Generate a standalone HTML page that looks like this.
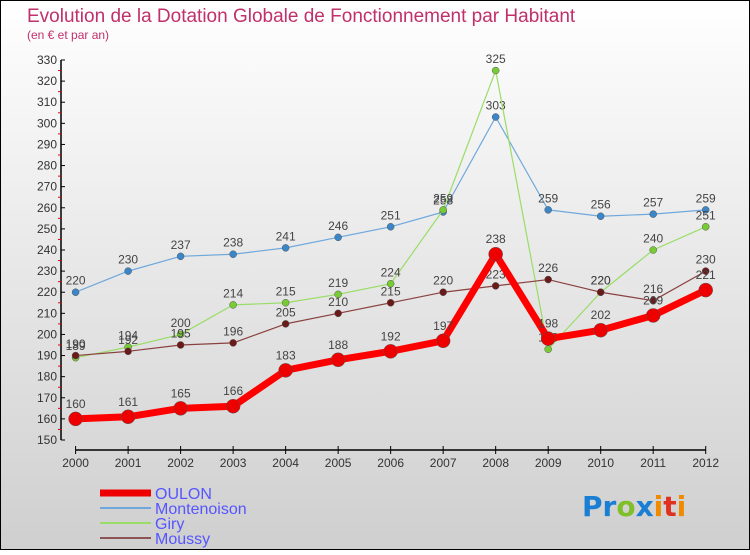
<!DOCTYPE html>
<html><head><meta charset="utf-8"><style>
body{margin:0}
#c{width:750px;height:550px;position:relative;font-family:"Liberation Sans",sans-serif;}
</style></head><body>
<div id="c">
<svg id="s" width="750" height="550" xmlns="http://www.w3.org/2000/svg">
<defs><linearGradient id="bg" x1="0" y1="0" x2="0" y2="1"><stop offset="0" stop-color="#ffffff"/><stop offset="1" stop-color="#cfcfcf"/></linearGradient></defs>
<rect x="0.5" y="0.5" width="749" height="549" fill="url(#bg)" stroke="#000"/>
<text x="27" y="22" font-size="19" fill="#c0306a">Evolution de la Dotation Globale de Fonctionnement par Habitant</text>
<text x="27" y="39" font-size="12" fill="#c0306a">(en € et par an)</text>
<g id="axes"></g>
<g id="series"></g>
<g id="legend"></g>
<text x="582" y="516" font-size="28" font-weight="bold" font-family="DejaVu Sans, sans-serif"><tspan fill="#1a7fd4">Pr</tspan><tspan fill="#7fbf2a">o</tspan><tspan fill="#1a7fd4">x</tspan><tspan fill="#f08a00">i</tspan><tspan fill="#e03020">t</tspan><tspan fill="#f08a00">i</tspan></text>
</svg>
</div>
<script>
const years=[2000,2001,2002,2003,2004,2005,2006,2007,2008,2009,2010,2011,2012];
const oulon=[160,161,165,166,183,188,192,197,238,198,202,209,221];
const montenoison=[220,230,237,238,241,246,251,258,303,259,256,257,259];
const giry=[189,194,200,214,215,219,224,259,325,193,220,240,251];
const moussy=[190,192,195,196,205,210,215,220,223,226,220,216,230];
const yTicks=[150,160,170,180,190,200,210,220,230,240,250,260,270,280,290,300,310,320,330];
const NS="http://www.w3.org/2000/svg";
const X=i=>75.6+i*(705.7-75.6)/(years.length-1);
const Y=v=>60+(330-v)*(440-60)/180;
function mk(tag,attrs,parent){const e=document.createElementNS(NS,tag);for(const k in attrs)e.setAttribute(k,attrs[k]);parent.appendChild(e);return e;}
const ax=document.getElementById('axes');
let yl=mk('line',{x1:61,y1:Y(330),x2:61,y2:Y(150),stroke:'#000','stroke-width':1.5},ax);


yTicks.forEach((t,i)=>{
  mk('line',{x1:61,y1:Y(t),x2:65,y2:Y(t),stroke:'#000'},ax);
  if(i<yTicks.length-1)mk('line',{x1:58,y1:Y(t+5),x2:61,y2:Y(t+5),stroke:'#e00'},ax);
  const tx=mk('text',{x:57,y:Y(t)+4,'font-size':12,'text-anchor':'end',fill:'#333'},ax);
  tx.textContent=t;
  
  
});
let xl=mk('line',{x1:X(0),y1:450,x2:X(12),y2:450,stroke:'#000','stroke-width':1.5},ax);


years.forEach((yr,i)=>{
  mk('line',{x1:X(i),y1:446,x2:X(i),y2:454,stroke:'#000'},ax);
  const tx=mk('text',{x:X(i),y:467,'font-size':12,'text-anchor':'middle',fill:'#333'},ax);
  tx.textContent=yr;
  
  
});
const sg=document.getElementById('series');
function drawSeries(name,vals,color,dot,w,r){
  const g=mk('g',{},sg);
  
  
  const pts=vals.map((v,i)=>X(i)+','+Y(v)).join(' ');
  mk('polyline',{points:pts,fill:'none',stroke:color,'stroke-width':w,'stroke-linejoin':'round'},g);
  vals.forEach((v,i)=>{
    const c=mk('circle',{cx:X(i),cy:Y(v),r:r,fill:dot,stroke:'#555','stroke-width':0.5},g);
    
    
    const t=mk('text',{x:X(i),y:Y(v)-(r+4),'font-size':12,'text-anchor':'middle',fill:'#444'},g);
    t.textContent=v;
    
    
  });
}
drawSeries('montenoison',montenoison,'#6fa8dc','#3a86c8',1.2,3.5);
drawSeries('giry',giry,'#99dd66','#77cc33',1.2,3.5);
drawSeries('moussy',moussy,'#8b4040','#6b1a1a',1.2,3.5);
drawSeries('oulon',oulon,'#ff0000','#ee0000',7,7);
const lg=document.getElementById('legend');
const leg=[['OULON','#ee0000',7],['Montenoison','#6fa8dc',2],['Giry','#99dd66',2],['Moussy','#8b5555',2]];
leg.forEach((l,i)=>{
  const y=493+i*15;
  const ln=mk('line',{x1:100,y1:y,x2:151,y2:y,stroke:l[1],'stroke-width':l[2]},lg);
  
  
  const t=mk('text',{x:155,y:y+6,'font-size':16,fill:'#5555ff'},lg);
  t.textContent=l[0];
  
  
});
</script>
</body></html>
